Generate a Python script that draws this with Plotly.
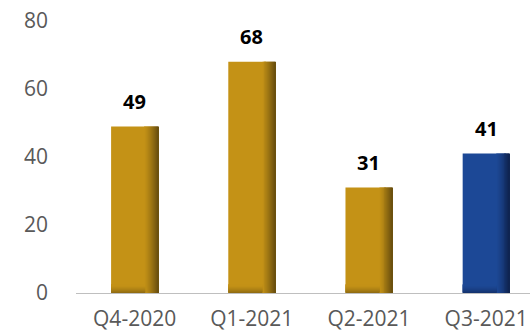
import plotly.graph_objects as go

# Quarterly values
quarters = ["Q4-2020", "Q1-2021", "Q2-2021", "Q3-2021"]
values = [49, 68, 31, 41]
labels = ["49", "68", "31", "41"]
y_ticks = [0, 20, 40, 60, 80]

GOLD = (196, 146, 22)
GOLD_DARK = (104, 78, 14)
BLUE = (28, 72, 150)
BLUE_DARK = (14, 34, 78)
base_cols = [GOLD, GOLD, GOLD, BLUE]
dark_cols = [GOLD_DARK, GOLD_DARK, GOLD_DARK, BLUE_DARK]


def mix(a, b, t):
    return "rgb(%d,%d,%d)" % tuple(round(a[k] + (b[k] - a[k]) * t) for k in range(3))


BAR_W = 0.401        # bar width in category units
SHADE_START = 0.72   # fraction of the bar width where the edge shading begins
N_SLICES = 14
FOOT_H = 2.4         # height (axis units) of the shaded foot of each bar
N_FOOT = 8

fig = go.Figure()

# main body of each bar
fig.add_trace(go.Bar(
    x=quarters, y=values,
    width=[BAR_W * SHADE_START + 0.002] * 4,
    offset=[-BAR_W / 2] * 4,
    marker=dict(color=[mix(c, c, 0) for c in base_cols], line=dict(width=0)),
    hoverinfo="skip", showlegend=False,
))

# darkening towards the right edge
band = BAR_W * (1 - SHADE_START)
sw = band / N_SLICES
for i in range(N_SLICES):
    t = ((i + 0.5) / N_SLICES) ** 1.3
    fig.add_trace(go.Bar(
        x=quarters, y=values,
        width=[sw + 0.001] * 4,
        offset=[-BAR_W / 2 + BAR_W * SHADE_START + i * sw] * 4,
        marker=dict(color=[mix(b, d, t) for b, d in zip(base_cols, dark_cols)],
                    line=dict(width=0)),
        hoverinfo="skip", showlegend=False,
    ))

# soft shadow at the foot of each bar
fh = FOOT_H / N_FOOT
for j in range(N_FOOT):
    t = 0.6 * (1 - (j + 0.5) / N_FOOT) ** 1.5
    fig.add_trace(go.Bar(
        x=quarters, y=[fh + 0.02] * 4, base=[j * fh] * 4,
        width=[BAR_W * SHADE_START + 0.002] * 4,
        offset=[-BAR_W / 2] * 4,
        marker=dict(color=[mix(b, d, t) for b, d in zip(base_cols, dark_cols)],
                    line=dict(width=0)),
        hoverinfo="skip", showlegend=False,
    ))

fig.update_layout(
    barmode="overlay",
    width=530, height=332,
    margin=dict(l=76, r=0, t=21, b=39),
    paper_bgcolor="white", plot_bgcolor="white",
    font=dict(family="Open Sans", size=21, color="#595959"),
    xaxis=dict(
        type="category",
        range=[-0.5, 3.374],
        automargin=False,
        showline=True, linecolor="#BFBFBF", linewidth=1,
        showgrid=False, zeroline=False, ticks="",
        ticklabelstandoff=7,
        tickfont=dict(family="Open Sans", size=21, color="#595959"),
    ),
    yaxis=dict(
        range=[0, 80],
        automargin=False,
        tickvals=y_ticks,
        ticktext=[str(v) for v in y_ticks],
        showline=False, showgrid=False, zeroline=False, ticks="",
        ticklabelstandoff=27,
        tickfont=dict(family="Open Sans", size=21, color="#595959"),
    ),
)

for q, v, lab in zip(quarters, values, labels):
    fig.add_annotation(
        x=q, y=v, text="<b>%s</b>" % lab, showarrow=False,
        yanchor="middle", yshift=25,
        font=dict(family="Open Sans", size=20, color="#000000"),
    )

fig.write_html("out.html")
